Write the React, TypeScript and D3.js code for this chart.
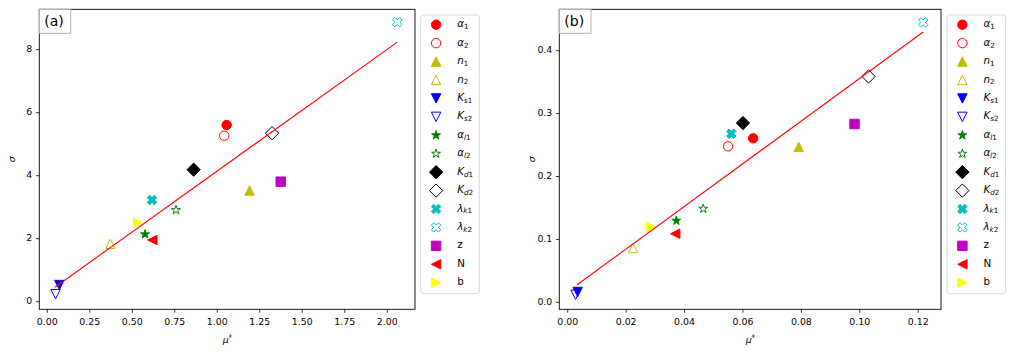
import * as d3 from 'd3'

// series (same order in both panels)
const legendMain = ['α', 'α', 'n', 'n', 'K', 'K', 'α', 'α', 'K', 'K', 'λ', 'λ', 'z', 'N', 'b']
const legendSub = ['1', '2', '1', '2', 's1', 's2', 'l1', 'l2', 'd1', 'd2', 'k1', 'k2', '', '', '']
const markers = ['o', 'o', '^', '^', 'v', 'v', '*', '*', 'D', 'D', 'X', 'X', 's', '<', '>']
const colors = ['#ff0000', '#ff0000', '#bfbf00', '#bfbf00', '#0000ff', '#0000ff', '#008000', '#008000',
  '#000000', '#000000', '#00bfbf', '#00bfbf', '#bf00bf', '#ff0000', '#ffff00']
const filled = [true, false, true, false, true, false, true, false, true, false, true, false, true, true, true]

// panel (a)
const muA = [1.055, 1.041, 1.19, 0.371, 0.071, 0.049, 0.575, 0.757, 0.861, 1.322, 0.616, 2.059, 1.373, 0.618, 0.534]
const sigA = [5.61, 5.27, 3.53, 1.84, 0.53, 0.24, 2.14, 2.91, 4.19, 5.35, 3.23, 8.87, 3.81, 1.96, 2.51]
const fitAx = [0.045, 2.059]
const fitAy = [0.46, 8.24]
const xTicksA = [0, 0.25, 0.5, 0.75, 1.0, 1.25, 1.5, 1.75, 2.0]
const yTicksA = [0, 2, 4, 6, 8]

// panel (b)
const muB = [0.0635, 0.0549, 0.0791, 0.0224, 0.0034, 0.0027, 0.0372, 0.0464, 0.060, 0.103, 0.056, 0.1217, 0.0982, 0.0368, 0.0286]
const sigB = [0.2607, 0.248, 0.247, 0.0863, 0.0164, 0.012, 0.1297, 0.1488, 0.285, 0.359, 0.268, 0.445, 0.2835, 0.109, 0.1197]
const fitBx = [0.0031, 0.1217]
const fitBy = [0.0275, 0.4297]
const xTicksB = [0, 0.02, 0.04, 0.06, 0.08, 0.1, 0.12]
const yTicksB = [0, 0.1, 0.2, 0.3, 0.4]

const FONT = 'DejaVu Sans, sans-serif'
const MS = 9.4

function markerPath(m: string, s: number): string {
  const h = s / 2
  const poly = (pts: number[][]) => 'M' + pts.map(p => p.join(',')).join('L') + 'Z'
  switch (m) {
    case '^': return poly([[0, -h], [-h, h], [h, h]])
    case 'v': return poly([[0, h], [-h, -h], [h, -h]])
    case '<': return poly([[-h, 0], [h, -h], [h, h]])
    case '>': return poly([[h, 0], [-h, -h], [-h, h]])
    case 's': return poly([[-h, -h], [h, -h], [h, h], [-h, h]])
    case 'D': {
      const d = h * Math.SQRT2
      return poly([[0, -d], [d, 0], [0, d], [-d, 0]])
    }
    case '*': {
      const pts: number[][] = []
      for (let i = 0; i < 10; i++) {
        const r = i % 2 === 0 ? h : h * 0.381966
        const a = -Math.PI / 2 + i * Math.PI / 5
        pts.push([r * Math.cos(a), r * Math.sin(a)])
      }
      return poly(pts)
    }
    case 'X': {
      const v = [[-1, -2], [0, -1], [1, -2], [2, -1], [1, 0], [2, 1], [1, 2], [0, 1], [-1, 2], [-2, 1], [-1, 0], [-2, -1]]
      return poly(v.map(p => [p[0] * s / 4, p[1] * s / 4]))
    }
    default:
      return d3.arc()({ innerRadius: 0, outerRadius: h, startAngle: 0, endAngle: 2 * Math.PI }) as string
  }
}

function Marker({ i, x, y }: { i: number, x: number, y: number }) {
  return (
    <path
      d={markerPath(markers[i], MS)}
      transform={`translate(${x},${y})`}
      fill={filled[i] ? colors[i] : 'none'}
      stroke={colors[i]}
      strokeWidth={1}
    />
  )
}

function LegendLabel({ i, x, y }: { i: number, x: number, y: number }) {
  const sub = legendSub[i]
  const isMath = sub !== ''
  const letters = sub.replace(/[0-9]/g, '')
  const digits = sub.replace(/[^0-9]/g, '')
  return (
    <text x={x} y={y} fontSize={10.3} fontFamily={FONT} dominantBaseline="middle">
      <tspan fontStyle={isMath ? 'italic' : 'normal'}>{legendMain[i]}</tspan>
      {isMath && (
        <tspan fontSize={7.2} dy={2.8}>
          {letters && <tspan fontStyle="italic">{letters}</tspan>}
          <tspan>{digits}</tspan>
        </tspan>
      )}
    </text>
  )
}

interface PanelProps {
  left: number
  right: number
  tag: string
  tagW: number
  mu: number[]
  sig: number[]
  fitX: number[]
  fitY: number[]
  xDomain: number[]
  yDomain: number[]
  xTicks: number[]
  yTicks: number[]
  yFmt: string
  legendX: number
  legendW: number
}

function Panel(p: PanelProps) {
  const top = 9.3
  const bottom = 309.3
  const x = d3.scaleLinear().domain(p.xDomain).range([p.left, p.right])
  const y = d3.scaleLinear().domain(p.yDomain).range([bottom, top])
  const fx = d3.format('.2f')
  const fy = d3.format(p.yFmt)
  const line = d3.line<number>().x(d => x(p.fitX[d])).y(d => y(p.fitY[d]))
  const cx = (p.left + p.right) / 2
  const rowH = 18.43
  return (
    <g>
      {p.mu.map((m, i) => <Marker key={i} i={i} x={x(m)} y={y(p.sig[i])} />)}
      <path d={line([0, 1]) as string} stroke="#ff0000" strokeWidth={1.1} fill="none" />

      <rect x={p.left} y={top} width={p.right - p.left} height={bottom - top}
        fill="none" stroke="#000" strokeWidth={0.9} />

      {p.xTicks.map(t => (
        <g key={t}>
          <line x1={x(t)} x2={x(t)} y1={bottom} y2={bottom + 3.4} stroke="#000" strokeWidth={0.8} />
          <text x={x(t)} y={bottom + 13.3} textAnchor="middle" dominantBaseline="middle"
            fontSize={9.4} fontFamily={FONT}>{fx(t)}</text>
        </g>
      ))}
      {p.yTicks.map(t => (
        <g key={t}>
          <line x1={p.left - 3.4} x2={p.left} y1={y(t)} y2={y(t)} stroke="#000" strokeWidth={0.8} />
          <text x={p.left - 7} y={y(t)} textAnchor="end" dominantBaseline="middle"
            fontSize={9.4} fontFamily={FONT}>{fy(t)}</text>
        </g>
      ))}

      {/* axis labels */}
      <text transform={`translate(${p.left - 27},${(top + bottom) / 2}) rotate(-90)`}
        textAnchor="middle" dominantBaseline="middle" fontSize={9.4} fontStyle="italic"
        fontFamily={FONT}>σ</text>
      <text x={cx - 4.5} y={343} fontSize={9.4} fontFamily={FONT}>
        <tspan fontStyle="italic">μ</tspan>
        <tspan fontSize={6.8} dy={-3.5}>{'*\u0302'}</tspan>
      </text>

      {/* panel tag */}
      <rect x={p.left} y={top} width={p.tagW} height={24} fill="#fff" stroke="#aaa" strokeWidth={0.9} />
      <text x={p.left + 5} y={top + 12.5} dominantBaseline="middle" fontSize={14}
        fontFamily={FONT}>{p.tag}</text>

      {/* legend */}
      <rect x={p.legendX} y={15} width={p.legendW} height={278.7} rx={2.5}
        fill="#fff" fillOpacity={0.8} stroke="#d5d5d5" strokeWidth={0.9} />
      {legendMain.map((_, i) => (
        <g key={i}>
          <Marker i={i} x={p.legendX + 15.4} y={24.7 + i * rowH} />
          <LegendLabel i={i} x={p.legendX + 36.5} y={24.3 + i * rowH} />
        </g>
      ))}
    </g>
  )
}

export default function App() {
  return (
    <svg width={1017} height={358} style={{ position: 'absolute', left: 0, top: 0, background: '#fff' }}>
      <rect width={1017} height={358} fill="#fff" />
      <Panel left={39.3} right={415} tag="(a)" tagW={31.4}
        mu={muA} sig={sigA} fitX={fitAx} fitY={fitAy}
        xDomain={[-0.047, 2.163]} yDomain={[-0.24, 9.28]}
        xTicks={xTicksA} yTicks={yTicksA} yFmt="d"
        legendX={420.7} legendW={58.6} />
      <Panel left={559.3} right={941} tag="(b)" tagW={31.7}
        mu={muB} sig={sigB} fitX={fitBx} fitY={fitBy}
        xDomain={[-0.00288, 0.1278]} yDomain={[-0.0111, 0.4658]}
        xTicks={xTicksB} yTicks={yTicksB} yFmt=".1f"
        legendX={947} legendW={58.7} />
    </svg>
  )
}
